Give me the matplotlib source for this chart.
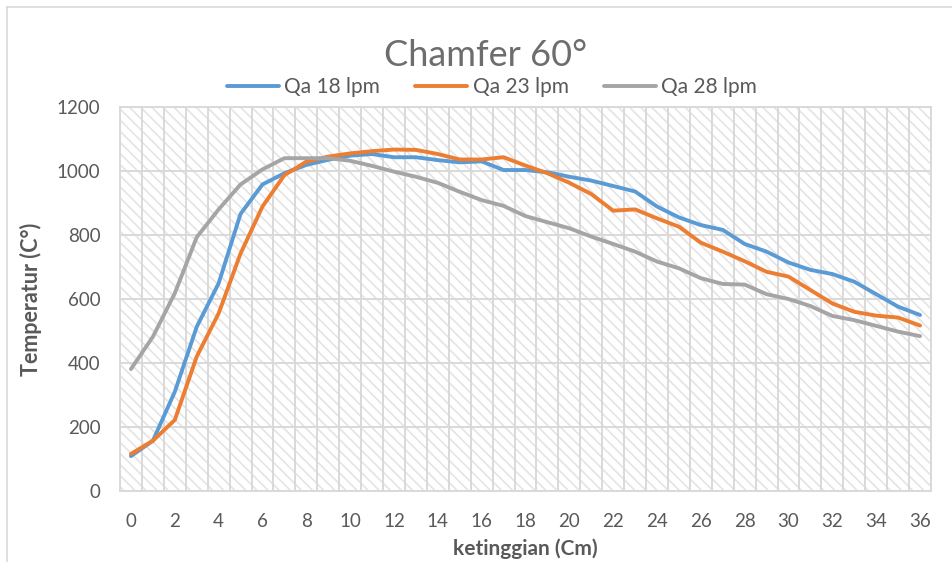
import matplotlib
matplotlib.use("Agg")
import matplotlib.pyplot as plt
from matplotlib.patches import Rectangle
from matplotlib.lines import Line2D

# Height along the nozzle (cm) and measured temperatures (°C)
heights = list(range(0, 37))
qa_18 = [109, 157, 310, 513, 649, 866, 958, 993, 1019, 1035, 1048, 1053, 1043, 1043, 1034,
         1027, 1030, 1003, 1003, 996, 982, 970, 953, 936, 889, 855, 831, 816, 772, 748,
         714, 691, 678, 654, 615, 576, 550]
qa_23 = [116, 157, 222, 420, 555, 742, 889, 987, 1029, 1045, 1055, 1062, 1067, 1066, 1053,
         1036, 1036, 1043, 1017, 993, 963, 928, 876, 880, 852, 826, 776, 748, 718, 685,
         670, 628, 586, 560, 548, 542, 517]
qa_28 = [381, 482, 618, 793, 880, 958, 1005, 1040, 1040, 1040, 1032, 1016, 998, 982, 963,
         935, 909, 891, 859, 840, 821, 795, 772, 748, 717, 696, 665, 647, 645, 615,
         600, 578, 547, 534, 516, 498, 484]
series_labels = ["Qa 18 lpm", "Qa 23 lpm", "Qa 28 lpm"]
series_colors = ["#5B9BD5", "#ED7D31", "#A5A5A5"]
x_ticks = list(range(0, 37, 2))
y_ticks = list(range(0, 1201, 200))

plt.rcParams["font.family"] = ["Lato", "DejaVu Sans"]
plt.rcParams["hatch.linewidth"] = 1.2
plt.rcParams["hatch.color"] = "#e4e4e4"

W, H = 952, 562
fig = plt.figure(figsize=(W / 100, H / 100), dpi=100)
fig.patch.set_facecolor("white")

# outer chart frame
fig.add_artist(Line2D([7 / W, 1], [1 - 7 / H, 1 - 7 / H], color="#d9d9d9", lw=1.2))
fig.add_artist(Line2D([7 / W, 7 / W], [0, 1 - 7 / H], color="#d9d9d9", lw=1.2))

left, right, top, bottom = 120, 931, 107, 491
ax = fig.add_axes([left / W, 1 - bottom / H, (right - left) / W, (bottom - top) / H])

# patterned plot area
ax.add_patch(Rectangle((0, 0), 1, 1, transform=ax.transAxes, facecolor="white",
                       edgecolor="#e4e4e4", hatch="\\\\\\", lw=0, zorder=0))

for vals, lab, col in zip([qa_18, qa_23, qa_28], series_labels, series_colors):
    ax.plot(heights, vals, color=col, lw=2.8, label=lab, zorder=3,
            solid_joinstyle="round", solid_capstyle="round")

ax.set_xlim(-0.5, 36.5)
ax.set_ylim(0, 1200)
ax.set_xticks(x_ticks)
ax.set_xticks([i - 0.5 for i in range(0, 38)], minor=True)
ax.set_yticks(y_ticks)
ax.grid(which="minor", axis="x", color="#d9d9d9", lw=1.4, zorder=1)
ax.grid(which="major", axis="y", color="#d9d9d9", lw=1.4, zorder=1)
ax.grid(which="major", axis="x", visible=False)
ax.tick_params(which="both", length=0)
ax.tick_params(axis="x", pad=16, labelsize=13.5, labelcolor="#595959")
ax.tick_params(axis="y", pad=14, labelsize=13.5, labelcolor="#595959")
for s in ax.spines.values():
    s.set_color("#d9d9d9")
    s.set_linewidth(1.4)

ax.set_xlabel("ketinggian (Cm)", fontsize=15, fontweight="bold", color="#595959", labelpad=6)
ax.set_ylabel("Temperatur (C°)", fontsize=15.5, fontweight="bold", color="#595959", labelpad=11)

fig.text(486 / W, 1 - 55 / H, "Chamfer 60°", ha="center", va="center",
         fontsize=26, fontweight="normal", color="#6d6d6d")

fig.legend(loc="center", bbox_to_anchor=(492 / W, 1 - 87 / H), ncol=3, frameon=False,
           fontsize=15, handlelength=2.5, columnspacing=1.7, handletextpad=0.25,
           labelcolor="#595959")

fig.savefig("out.png", dpi=100)
